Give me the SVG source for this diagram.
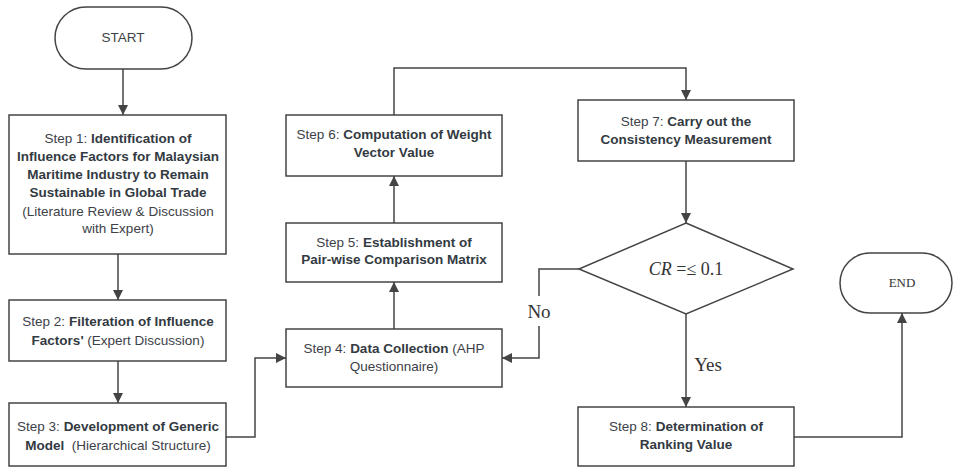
<svg xmlns="http://www.w3.org/2000/svg" width="954" height="470" viewBox="0 0 954 470">
<defs>
<marker id="ah" viewBox="0 0 10 10" refX="10" refY="5" markerWidth="10" markerHeight="10" markerUnits="userSpaceOnUse" orient="auto">
<path d="M0,0 L10,5 L0,10 z" fill="#444"/>
</marker>
<style>
.box{fill:#fff;stroke:#444;stroke-width:1.5}
.t{font-family:"Liberation Sans",Arial,sans-serif;font-size:13.5px;fill:#3d4148;text-anchor:middle}
.b{font-weight:bold;fill:#333a42}
.c{fill:none;stroke:#444;stroke-width:1.5;marker-end:url(#ah)}
.s{font-family:"Liberation Serif","Times New Roman",serif;fill:#333;text-anchor:middle}
</style>
</defs>
<rect width="954" height="470" fill="#fff"/>
<g id="connectors">
<path class="c" d="M123,69 V115"/>
<path class="c" d="M118,254 V300"/>
<path class="c" d="M118,361 V403"/>
<path class="c" d="M226,437 H255 V358 H286"/>
<path class="c" d="M394,329 V282"/>
<path class="c" d="M394,223 V176"/>
<path class="c" d="M394,115 V68 H686 V100"/>
<path class="c" d="M686,161 V223"/>
<path class="c" d="M579,269 H539 V358 H502"/>
<path class="c" d="M686,314 V407"/>
<path class="c" d="M794,437 H902 V313"/>
<rect x="528" y="296" width="22" height="30" fill="#fff"/>
<text class="s" x="539" y="318" font-size="19">No</text>
<text class="s" x="708" y="371" font-size="19">Yes</text>
</g>
<g id="start">
<rect class="box" x="55" y="7" width="137" height="62" rx="31"/>
<text class="t" x="123" y="42">START</text>
</g>
<g id="step1">
<rect class="box" x="9" y="115" width="217" height="139"/>
<text class="t" x="118" y="143">Step 1: <tspan class="b">Identification of</tspan></text>
<text class="t b" x="118" y="161">Influence Factors for Malaysian</text>
<text class="t b" x="118" y="179">Maritime Industry to Remain</text>
<text class="t b" x="118" y="197">Sustainable in Global Trade</text>
<text class="t" x="118" y="216">(Literature Review &amp; Discussion</text>
<text class="t" x="118" y="233">with Expert)</text>
</g>
<g id="step2">
<rect class="box" x="9" y="300" width="217" height="61"/>
<text class="t" x="118" y="326">Step 2: <tspan class="b">Filteration of Influence</tspan></text>
<text class="t" x="118" y="345"><tspan class="b">Factors'</tspan> (Expert Discussion)</text>
</g>
<g id="step3">
<rect class="box" x="9" y="403" width="217" height="63"/>
<text class="t" x="118" y="431">Step 3: <tspan class="b">Development of Generic</tspan></text>
<text class="t" x="118" y="450"><tspan class="b">Model</tspan>&#160; (Hierarchical Structure)</text>
</g>
<g id="step4">
<rect class="box" x="286" y="329" width="216" height="58"/>
<text class="t" x="394" y="353">Step 4: <tspan class="b">Data Collection</tspan> (AHP</text>
<text class="t" x="394" y="371">Questionnaire)</text>
</g>
<g id="step5">
<rect class="box" x="286" y="223" width="216" height="59"/>
<text class="t" x="394" y="247">Step 5: <tspan class="b">Establishment of</tspan></text>
<text class="t b" x="394" y="264">Pair-wise Comparison Matrix</text>
</g>
<g id="step6">
<rect class="box" x="286" y="115" width="216" height="61"/>
<text class="t" x="394" y="139">Step 6: <tspan class="b">Computation of Weight</tspan></text>
<text class="t b" x="394" y="157">Vector Value</text>
</g>
<g id="step7">
<rect class="box" x="578" y="100" width="216" height="61"/>
<text class="t" x="686" y="126">Step 7: <tspan class="b">Carry out the</tspan></text>
<text class="t b" x="686" y="144">Consistency Measurement</text>
</g>
<g id="decision">
<polygon class="box" points="686,223 793,269 686,314 579,269"/>
<text class="s" x="686" y="275" font-size="18"><tspan font-style="italic">CR</tspan> =≤ 0.1</text>
</g>
<g id="step8">
<rect class="box" x="578" y="407" width="216" height="59"/>
<text class="t" x="686" y="431">Step 8: <tspan class="b">Determination of</tspan></text>
<text class="t b" x="686" y="449">Ranking Value</text>
</g>
<g id="end">
<rect class="box" x="840" y="253" width="112" height="60" rx="30"/>
<text class="s" x="902" y="287" font-size="13">END</text>
</g>
</svg>
